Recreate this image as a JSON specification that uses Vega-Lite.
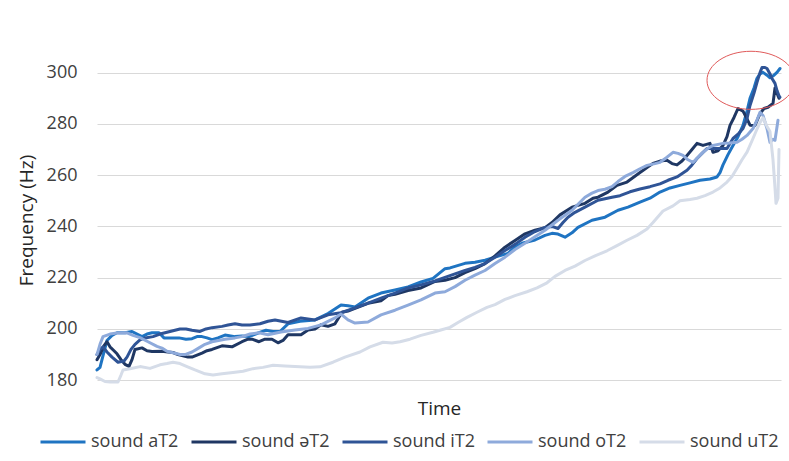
{
"$schema": "https://vega.github.io/schema/vega-lite/v6.json",
"width": 684, "height": 346,
"autosize": {"type": "none"},
"padding": {"left": 97, "top": 47, "right": 8, "bottom": 68},
"background": "white",
"config": {"view": {"stroke": null}, "font": "Open Sans"},
"layer": [
{
"data": {"values": [
{"s":"sound aT2","t":0,"f":184},{"s":"sound aT2","t":3,"f":185},{"s":"sound aT2","t":7,"f":191},{"s":"sound aT2","t":10,"f":195.5},{"s":"sound aT2","t":15,"f":197.5},{"s":"sound aT2","t":20,"f":198.5},{"s":"sound aT2","t":28,"f":198.5},{"s":"sound aT2","t":35,"f":199},{"s":"sound aT2","t":40,"f":198},{"s":"sound aT2","t":45,"f":197},{"s":"sound aT2","t":50,"f":198},{"s":"sound aT2","t":55,"f":198.5},{"s":"sound aT2","t":62,"f":198.5},{"s":"sound aT2","t":67,"f":196.5},{"s":"sound aT2","t":75,"f":196.5},{"s":"sound aT2","t":82,"f":196.5},{"s":"sound aT2","t":89,"f":196},{"s":"sound aT2","t":95,"f":196.2},{"s":"sound aT2","t":100,"f":197},{"s":"sound aT2","t":105,"f":197},{"s":"sound aT2","t":110,"f":196.5},{"s":"sound aT2","t":115,"f":195.8},{"s":"sound aT2","t":121,"f":196.5},{"s":"sound aT2","t":128,"f":197.6},{"s":"sound aT2","t":138,"f":197},{"s":"sound aT2","t":145,"f":197.2},{"s":"sound aT2","t":152,"f":197},{"s":"sound aT2","t":162,"f":198.5},{"s":"sound aT2","t":169,"f":199.5},{"s":"sound aT2","t":176,"f":199},{"s":"sound aT2","t":183,"f":199},{"s":"sound aT2","t":191,"f":202},{"s":"sound aT2","t":203,"f":203},{"s":"sound aT2","t":218,"f":203.5},{"s":"sound aT2","t":231,"f":206},{"s":"sound aT2","t":244,"f":209.3},{"s":"sound aT2","t":251,"f":209},{"s":"sound aT2","t":258,"f":208.6},{"s":"sound aT2","t":271,"f":212},{"s":"sound aT2","t":284,"f":214},{"s":"sound aT2","t":298,"f":215.2},{"s":"sound aT2","t":311,"f":216.4},{"s":"sound aT2","t":324,"f":218.3},{"s":"sound aT2","t":336,"f":219.7},{"s":"sound aT2","t":348,"f":223.5},{"s":"sound aT2","t":353,"f":223.8},{"s":"sound aT2","t":368,"f":225.6},{"s":"sound aT2","t":378,"f":226},{"s":"sound aT2","t":388,"f":226.8},{"s":"sound aT2","t":398,"f":228},{"s":"sound aT2","t":411,"f":229.5},{"s":"sound aT2","t":418,"f":232},{"s":"sound aT2","t":425,"f":233.4},{"s":"sound aT2","t":438,"f":234.7},{"s":"sound aT2","t":448,"f":236.5},{"s":"sound aT2","t":455,"f":237.3},{"s":"sound aT2","t":461,"f":237},{"s":"sound aT2","t":468,"f":235.8},{"s":"sound aT2","t":475,"f":237.5},{"s":"sound aT2","t":481,"f":239.6},{"s":"sound aT2","t":495,"f":242.4},{"s":"sound aT2","t":508,"f":243.6},{"s":"sound aT2","t":521,"f":246.3},{"s":"sound aT2","t":531,"f":247.5},{"s":"sound aT2","t":543,"f":249.5},{"s":"sound aT2","t":553,"f":251},{"s":"sound aT2","t":563,"f":253.4},{"s":"sound aT2","t":573,"f":255},{"s":"sound aT2","t":583,"f":256},{"s":"sound aT2","t":593,"f":257},{"s":"sound aT2","t":603,"f":258},{"s":"sound aT2","t":613,"f":258.5},{"s":"sound aT2","t":620,"f":259.3},{"s":"sound aT2","t":623,"f":261},{"s":"sound aT2","t":626,"f":264},{"s":"sound aT2","t":631,"f":268},{"s":"sound aT2","t":636,"f":271.6},{"s":"sound aT2","t":641,"f":275},{"s":"sound aT2","t":646,"f":279.4},{"s":"sound aT2","t":650,"f":285},{"s":"sound aT2","t":653,"f":290},{"s":"sound aT2","t":657,"f":294},{"s":"sound aT2","t":660,"f":297.8},{"s":"sound aT2","t":663,"f":299.5},{"s":"sound aT2","t":666,"f":300.1},{"s":"sound aT2","t":670,"f":299},{"s":"sound aT2","t":673,"f":298},{"s":"sound aT2","t":677,"f":299},{"s":"sound aT2","t":680,"f":300.1},{"s":"sound aT2","t":683,"f":301.6},

{"s":"sound əT2","t":0,"f":188},{"s":"sound əT2","t":3,"f":190},{"s":"sound əT2","t":7,"f":193.5},{"s":"sound əT2","t":10,"f":195},{"s":"sound əT2","t":13,"f":193},{"s":"sound əT2","t":17,"f":191.5},{"s":"sound əT2","t":20,"f":190.3},{"s":"sound əT2","t":24,"f":188},{"s":"sound əT2","t":28,"f":186.2},{"s":"sound əT2","t":32,"f":185.4},{"s":"sound əT2","t":35,"f":188},{"s":"sound əT2","t":38,"f":192},{"s":"sound əT2","t":45,"f":192.6},{"s":"sound əT2","t":50,"f":191.5},{"s":"sound əT2","t":55,"f":191.2},{"s":"sound əT2","t":65,"f":191.3},{"s":"sound əT2","t":71,"f":191},{"s":"sound əT2","t":76,"f":190.8},{"s":"sound əT2","t":81,"f":190},{"s":"sound əT2","t":86,"f":189.5},{"s":"sound əT2","t":91,"f":189},{"s":"sound əT2","t":95,"f":189},{"s":"sound əT2","t":100,"f":189.8},{"s":"sound əT2","t":105,"f":190.6},{"s":"sound əT2","t":110,"f":191.5},{"s":"sound əT2","t":115,"f":192},{"s":"sound əT2","t":125,"f":193.4},{"s":"sound əT2","t":135,"f":193},{"s":"sound əT2","t":145,"f":195},{"s":"sound əT2","t":151,"f":196},{"s":"sound əT2","t":155,"f":196},{"s":"sound əT2","t":162,"f":195},{"s":"sound əT2","t":168,"f":196},{"s":"sound əT2","t":175,"f":196},{"s":"sound əT2","t":181,"f":194.6},{"s":"sound əT2","t":186,"f":195.5},{"s":"sound əT2","t":191,"f":197.7},{"s":"sound əT2","t":204,"f":197.7},{"s":"sound əT2","t":211,"f":199.6},{"s":"sound əT2","t":218,"f":200},{"s":"sound əT2","t":224,"f":201.6},{"s":"sound əT2","t":231,"f":201},{"s":"sound əT2","t":238,"f":202},{"s":"sound əT2","t":245,"f":206.5},{"s":"sound əT2","t":251,"f":207},{"s":"sound əT2","t":258,"f":208},{"s":"sound əT2","t":271,"f":210},{"s":"sound əT2","t":284,"f":211},{"s":"sound əT2","t":291,"f":213},{"s":"sound əT2","t":298,"f":213.5},{"s":"sound əT2","t":311,"f":215},{"s":"sound əT2","t":324,"f":216},{"s":"sound əT2","t":338,"f":218.5},{"s":"sound əT2","t":348,"f":219},{"s":"sound əT2","t":358,"f":220},{"s":"sound əT2","t":368,"f":222},{"s":"sound əT2","t":378,"f":223.5},{"s":"sound əT2","t":388,"f":225.5},{"s":"sound əT2","t":398,"f":228.5},{"s":"sound əT2","t":408,"f":231.9},{"s":"sound əT2","t":418,"f":234.5},{"s":"sound əT2","t":428,"f":237.1},{"s":"sound əT2","t":438,"f":238.5},{"s":"sound əT2","t":448,"f":239.5},{"s":"sound əT2","t":455,"f":241.5},{"s":"sound əT2","t":463,"f":244.5},{"s":"sound əT2","t":475,"f":247.5},{"s":"sound əT2","t":488,"f":249},{"s":"sound əT2","t":496,"f":251},{"s":"sound əT2","t":501,"f":251.4},{"s":"sound əT2","t":511,"f":253.4},{"s":"sound əT2","t":520,"f":256},{"s":"sound əT2","t":530,"f":257.3},{"s":"sound əT2","t":543,"f":261},{"s":"sound əT2","t":556,"f":264.6},{"s":"sound əT2","t":563,"f":265.5},{"s":"sound əT2","t":570,"f":265.8},{"s":"sound əT2","t":575,"f":264.5},{"s":"sound əT2","t":580,"f":264},{"s":"sound əT2","t":585,"f":265.5},{"s":"sound əT2","t":590,"f":267.7},{"s":"sound əT2","t":595,"f":270},{"s":"sound əT2","t":600,"f":272.4},{"s":"sound əT2","t":606,"f":271.6},{"s":"sound əT2","t":613,"f":272.4},{"s":"sound əT2","t":616,"f":268.9},{"s":"sound əT2","t":621,"f":269.5},{"s":"sound əT2","t":626,"f":271.6},{"s":"sound əT2","t":630,"f":275},{"s":"sound əT2","t":633,"f":279.4},{"s":"sound əT2","t":637,"f":282.5},{"s":"sound əT2","t":641,"f":286},{"s":"sound əT2","t":646,"f":285},{"s":"sound əT2","t":650,"f":282},{"s":"sound əT2","t":653,"f":279.5},{"s":"sound əT2","t":658,"f":279.4},{"s":"sound əT2","t":663,"f":284},{"s":"sound əT2","t":667,"f":286},{"s":"sound əT2","t":671,"f":286.5},{"s":"sound əT2","t":676,"f":288},{"s":"sound əT2","t":678,"f":294},{"s":"sound əT2","t":680,"f":292},{"s":"sound əT2","t":682,"f":290},

{"s":"sound iT2","t":0,"f":190},{"s":"sound iT2","t":3,"f":192},{"s":"sound iT2","t":6,"f":193},{"s":"sound iT2","t":10,"f":191},{"s":"sound iT2","t":15,"f":189},{"s":"sound iT2","t":21,"f":187},{"s":"sound iT2","t":27,"f":187.5},{"s":"sound iT2","t":30,"f":189},{"s":"sound iT2","t":34,"f":192},{"s":"sound iT2","t":38,"f":194},{"s":"sound iT2","t":43,"f":195.7},{"s":"sound iT2","t":48,"f":196.5},{"s":"sound iT2","t":56,"f":197},{"s":"sound iT2","t":63,"f":198},{"s":"sound iT2","t":68,"f":198.5},{"s":"sound iT2","t":75,"f":199.2},{"s":"sound iT2","t":83,"f":200},{"s":"sound iT2","t":89,"f":200},{"s":"sound iT2","t":95,"f":199.5},{"s":"sound iT2","t":103,"f":199},{"s":"sound iT2","t":109,"f":200},{"s":"sound iT2","t":115,"f":200.5},{"s":"sound iT2","t":125,"f":201},{"s":"sound iT2","t":131,"f":201.5},{"s":"sound iT2","t":138,"f":202},{"s":"sound iT2","t":145,"f":201.5},{"s":"sound iT2","t":153,"f":201.5},{"s":"sound iT2","t":163,"f":202},{"s":"sound iT2","t":171,"f":203},{"s":"sound iT2","t":178,"f":203.5},{"s":"sound iT2","t":191,"f":202.5},{"s":"sound iT2","t":204,"f":204.3},{"s":"sound iT2","t":218,"f":203.5},{"s":"sound iT2","t":231,"f":205.5},{"s":"sound iT2","t":244,"f":206.3},{"s":"sound iT2","t":258,"f":208.2},{"s":"sound iT2","t":271,"f":210.1},{"s":"sound iT2","t":284,"f":212},{"s":"sound iT2","t":298,"f":214},{"s":"sound iT2","t":311,"f":216},{"s":"sound iT2","t":324,"f":217.2},{"s":"sound iT2","t":338,"f":218.7},{"s":"sound iT2","t":348,"f":220.1},{"s":"sound iT2","t":358,"f":221.5},{"s":"sound iT2","t":368,"f":222.8},{"s":"sound iT2","t":378,"f":224},{"s":"sound iT2","t":388,"f":225.5},{"s":"sound iT2","t":398,"f":228},{"s":"sound iT2","t":408,"f":230.6},{"s":"sound iT2","t":418,"f":233},{"s":"sound iT2","t":428,"f":235.8},{"s":"sound iT2","t":438,"f":238},{"s":"sound iT2","t":448,"f":239.6},{"s":"sound iT2","t":455,"f":240},{"s":"sound iT2","t":461,"f":239.2},{"s":"sound iT2","t":466,"f":241.5},{"s":"sound iT2","t":471,"f":243.6},{"s":"sound iT2","t":478,"f":245.5},{"s":"sound iT2","t":488,"f":247.5},{"s":"sound iT2","t":501,"f":250.2},{"s":"sound iT2","t":515,"f":251.4},{"s":"sound iT2","t":523,"f":252},{"s":"sound iT2","t":533,"f":253.5},{"s":"sound iT2","t":543,"f":254.6},{"s":"sound iT2","t":553,"f":255.5},{"s":"sound iT2","t":563,"f":256.6},{"s":"sound iT2","t":571,"f":258},{"s":"sound iT2","t":580,"f":259.3},{"s":"sound iT2","t":590,"f":261.9},{"s":"sound iT2","t":595,"f":264},{"s":"sound iT2","t":600,"f":266.5},{"s":"sound iT2","t":605,"f":268.5},{"s":"sound iT2","t":610,"f":270.4},{"s":"sound iT2","t":620,"f":270.4},{"s":"sound iT2","t":630,"f":270.4},{"s":"sound iT2","t":636,"f":274.3},{"s":"sound iT2","t":641,"f":276},{"s":"sound iT2","t":646,"f":278.2},{"s":"sound iT2","t":650,"f":282},{"s":"sound iT2","t":653,"f":287.2},{"s":"sound iT2","t":657,"f":292},{"s":"sound iT2","t":660,"f":296.2},{"s":"sound iT2","t":663,"f":300},{"s":"sound iT2","t":665,"f":302},{"s":"sound iT2","t":668,"f":302},{"s":"sound iT2","t":670,"f":301.6},{"s":"sound iT2","t":673,"f":299.5},{"s":"sound iT2","t":675,"f":297.7},{"s":"sound iT2","t":678,"f":295.8},{"s":"sound iT2","t":680,"f":293},{"s":"sound iT2","t":682,"f":291},{"s":"sound iT2","t":683,"f":290.4},

{"s":"sound oT2","t":0,"f":190},{"s":"sound oT2","t":3,"f":194},{"s":"sound oT2","t":6,"f":197},{"s":"sound oT2","t":13,"f":198},{"s":"sound oT2","t":20,"f":198.4},{"s":"sound oT2","t":30,"f":198.5},{"s":"sound oT2","t":36,"f":197.5},{"s":"sound oT2","t":43,"f":196.6},{"s":"sound oT2","t":51,"f":195},{"s":"sound oT2","t":60,"f":193.2},{"s":"sound oT2","t":65,"f":192.5},{"s":"sound oT2","t":70,"f":191.3},{"s":"sound oT2","t":78,"f":190.5},{"s":"sound oT2","t":83,"f":190},{"s":"sound oT2","t":88,"f":190},{"s":"sound oT2","t":95,"f":191},{"s":"sound oT2","t":102,"f":192.6},{"s":"sound oT2","t":108,"f":194},{"s":"sound oT2","t":115,"f":195},{"s":"sound oT2","t":128,"f":196},{"s":"sound oT2","t":138,"f":196.5},{"s":"sound oT2","t":145,"f":197},{"s":"sound oT2","t":153,"f":198},{"s":"sound oT2","t":162,"f":198.5},{"s":"sound oT2","t":171,"f":197.7},{"s":"sound oT2","t":184,"f":198.8},{"s":"sound oT2","t":198,"f":199.6},{"s":"sound oT2","t":211,"f":200.2},{"s":"sound oT2","t":224,"f":201.6},{"s":"sound oT2","t":238,"f":204.3},{"s":"sound oT2","t":244,"f":205.8},{"s":"sound oT2","t":251,"f":203.5},{"s":"sound oT2","t":258,"f":202.3},{"s":"sound oT2","t":271,"f":202.7},{"s":"sound oT2","t":284,"f":205.5},{"s":"sound oT2","t":298,"f":207.3},{"s":"sound oT2","t":311,"f":209.3},{"s":"sound oT2","t":324,"f":211.3},{"s":"sound oT2","t":338,"f":214},{"s":"sound oT2","t":348,"f":214.5},{"s":"sound oT2","t":358,"f":216.5},{"s":"sound oT2","t":368,"f":219},{"s":"sound oT2","t":378,"f":221},{"s":"sound oT2","t":388,"f":222.8},{"s":"sound oT2","t":398,"f":225.5},{"s":"sound oT2","t":408,"f":228},{"s":"sound oT2","t":418,"f":231},{"s":"sound oT2","t":428,"f":233.4},{"s":"sound oT2","t":438,"f":236},{"s":"sound oT2","t":448,"f":238.5},{"s":"sound oT2","t":461,"f":242.4},{"s":"sound oT2","t":475,"f":246.3},{"s":"sound oT2","t":488,"f":251.4},{"s":"sound oT2","t":495,"f":253},{"s":"sound oT2","t":501,"f":254},{"s":"sound oT2","t":508,"f":254.5},{"s":"sound oT2","t":515,"f":255.5},{"s":"sound oT2","t":521,"f":257.5},{"s":"sound oT2","t":528,"f":259.5},{"s":"sound oT2","t":536,"f":261},{"s":"sound oT2","t":543,"f":262.5},{"s":"sound oT2","t":550,"f":263.8},{"s":"sound oT2","t":558,"f":264.5},{"s":"sound oT2","t":563,"f":265},{"s":"sound oT2","t":570,"f":267},{"s":"sound oT2","t":576,"f":268.9},{"s":"sound oT2","t":581,"f":268.5},{"s":"sound oT2","t":586,"f":267.7},{"s":"sound oT2","t":591,"f":266},{"s":"sound oT2","t":596,"f":265},{"s":"sound oT2","t":601,"f":267},{"s":"sound oT2","t":606,"f":268.9},{"s":"sound oT2","t":611,"f":270.5},{"s":"sound oT2","t":616,"f":271.6},{"s":"sound oT2","t":626,"f":272.4},{"s":"sound oT2","t":633,"f":272.5},{"s":"sound oT2","t":640,"f":272.8},{"s":"sound oT2","t":645,"f":274},{"s":"sound oT2","t":650,"f":275.5},{"s":"sound oT2","t":656,"f":278.2},{"s":"sound oT2","t":660,"f":281.5},{"s":"sound oT2","t":663,"f":284.5},{"s":"sound oT2","t":666,"f":283.3},{"s":"sound oT2","t":670,"f":278.2},{"s":"sound oT2","t":673,"f":272.8},{"s":"sound oT2","t":676,"f":274},{"s":"sound oT2","t":678,"f":273.6},{"s":"sound oT2","t":681,"f":281.4},

{"s":"sound uT2","t":0,"f":181},{"s":"sound uT2","t":3,"f":180.5},{"s":"sound uT2","t":8,"f":179.5},{"s":"sound uT2","t":13,"f":179.3},{"s":"sound uT2","t":21,"f":179.3},{"s":"sound uT2","t":24,"f":182},{"s":"sound uT2","t":26,"f":184},{"s":"sound uT2","t":33,"f":184.5},{"s":"sound uT2","t":43,"f":185.3},{"s":"sound uT2","t":53,"f":184.6},{"s":"sound uT2","t":63,"f":186},{"s":"sound uT2","t":70,"f":186.5},{"s":"sound uT2","t":76,"f":187},{"s":"sound uT2","t":83,"f":186.5},{"s":"sound uT2","t":90,"f":185.3},{"s":"sound uT2","t":98,"f":184},{"s":"sound uT2","t":108,"f":182.5},{"s":"sound uT2","t":116,"f":182},{"s":"sound uT2","t":125,"f":182.5},{"s":"sound uT2","t":136,"f":183},{"s":"sound uT2","t":146,"f":183.5},{"s":"sound uT2","t":156,"f":184.5},{"s":"sound uT2","t":166,"f":185},{"s":"sound uT2","t":176,"f":185.8},{"s":"sound uT2","t":188,"f":185.5},{"s":"sound uT2","t":203,"f":185.2},{"s":"sound uT2","t":213,"f":185},{"s":"sound uT2","t":223,"f":185.2},{"s":"sound uT2","t":236,"f":187},{"s":"sound uT2","t":248,"f":189},{"s":"sound uT2","t":263,"f":191},{"s":"sound uT2","t":273,"f":193},{"s":"sound uT2","t":286,"f":194.8},{"s":"sound uT2","t":295,"f":194.5},{"s":"sound uT2","t":303,"f":195},{"s":"sound uT2","t":313,"f":196},{"s":"sound uT2","t":324,"f":197.5},{"s":"sound uT2","t":336,"f":198.7},{"s":"sound uT2","t":343,"f":199.5},{"s":"sound uT2","t":353,"f":200.6},{"s":"sound uT2","t":361,"f":202.5},{"s":"sound uT2","t":370,"f":204.5},{"s":"sound uT2","t":380,"f":206.5},{"s":"sound uT2","t":390,"f":208.4},{"s":"sound uT2","t":398,"f":209.5},{"s":"sound uT2","t":408,"f":211.5},{"s":"sound uT2","t":418,"f":213},{"s":"sound uT2","t":430,"f":214.5},{"s":"sound uT2","t":440,"f":216},{"s":"sound uT2","t":450,"f":218},{"s":"sound uT2","t":458,"f":220.5},{"s":"sound uT2","t":468,"f":222.8},{"s":"sound uT2","t":478,"f":224.5},{"s":"sound uT2","t":488,"f":226.7},{"s":"sound uT2","t":498,"f":228.5},{"s":"sound uT2","t":510,"f":230.5},{"s":"sound uT2","t":520,"f":232.5},{"s":"sound uT2","t":530,"f":234.6},{"s":"sound uT2","t":540,"f":236.5},{"s":"sound uT2","t":550,"f":239},{"s":"sound uT2","t":556,"f":241.5},{"s":"sound uT2","t":566,"f":246},{"s":"sound uT2","t":576,"f":248},{"s":"sound uT2","t":583,"f":250},{"s":"sound uT2","t":593,"f":250.5},{"s":"sound uT2","t":600,"f":251},{"s":"sound uT2","t":608,"f":252},{"s":"sound uT2","t":616,"f":253.4},{"s":"sound uT2","t":623,"f":255},{"s":"sound uT2","t":630,"f":257.3},{"s":"sound uT2","t":635,"f":259.5},{"s":"sound uT2","t":640,"f":262.7},{"s":"sound uT2","t":645,"f":266},{"s":"sound uT2","t":650,"f":269},{"s":"sound uT2","t":656,"f":274.3},{"s":"sound uT2","t":660,"f":278},{"s":"sound uT2","t":663,"f":280.5},{"s":"sound uT2","t":666,"f":282.4},{"s":"sound uT2","t":670,"f":279},{"s":"sound uT2","t":673,"f":277},{"s":"sound uT2","t":676,"f":266},{"s":"sound uT2","t":678,"f":255},{"s":"sound uT2","t":679,"f":249},{"s":"sound uT2","t":681,"f":251},{"s":"sound uT2","t":682,"f":270}
]},
"mark": {"type": "line", "strokeWidth": 3, "strokeJoin": "round", "strokeCap": "round"},
"encoding": {
"x": {"field": "t", "type": "quantitative", "scale": {"domain": [0, 684], "nice": false, "zero": false},
"axis": {"title": "Time", "labels": false, "ticks": false, "domain": false, "grid": false, "titleFontSize": 19, "titleFontWeight": "normal", "titleColor": "#262626", "titlePadding": 6}},
"y": {"field": "f", "type": "quantitative", "scale": {"domain": [175, 310], "nice": false, "zero": false},
"axis": {"title": "Frequency (Hz)", "values": [180, 200, 220, 240, 260, 280, 300], "ticks": false, "tickSize": 0, "domain": false, "labelPadding": 20, "labelFontSize": 18, "labelColor": "#404040", "gridColor": "#d9d9d9", "gridWidth": 1, "titleFontSize": 19, "titleFontWeight": "normal", "titleColor": "#262626", "titlePadding": 10}},
"color": {"field": "s", "type": "nominal",
"scale": {"domain": ["sound aT2", "sound əT2", "sound iT2", "sound oT2", "sound uT2"], "range": ["#1f74c2", "#1f3763", "#2f5496", "#8eaadb", "#d5dce8"]},
"legend": {"title": null, "orient": "none", "legendX": -58, "legendY": 371, "direction": "horizontal", "columns": 5, "symbolType": "stroke", "symbolSize": 2025, "symbolStrokeWidth": 3, "labelFontSize": 18, "labelColor": "#404040", "labelOffset": 4, "columnPadding": 6, "padding": 0, "labelLimit": 200}}
}
},
{
"data": {"values": [{"t": 654, "f": 297}]},
"mark": {"type": "point", "shape": "M-1,0A1,0.66,0,1,0,1,0A1,0.66,0,1,0,-1,0Z", "size": 7744, "filled": false, "stroke": "#e05a5a", "strokeWidth": 1, "opacity": 1},
"encoding": {
"x": {"field": "t", "type": "quantitative", "title": "Time"},
"y": {"field": "f", "type": "quantitative", "title": "Frequency (Hz)"}
}
}
]
}
